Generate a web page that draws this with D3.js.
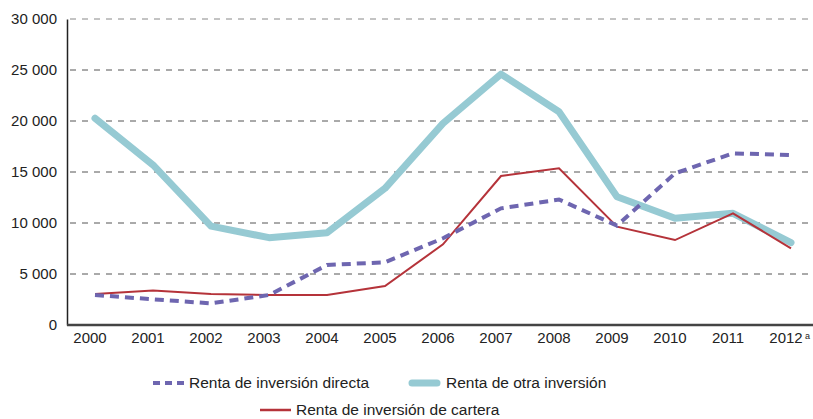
<!DOCTYPE html>
<html>
<head>
<meta charset="utf-8">
<script src="https://cdn.jsdelivr.net/npm/d3@7"></script>
<style>
	body { margin: 0; background: #fff; }
	text { font-family: "Liberation Sans", Arial, sans-serif; fill: #222; }
</style>
</head>
<body>
<svg id="chart" width="813" height="419"></svg>
<script>
var years = ["2000", "2001", "2002", "2003", "2004", "2005", "2006", "2007", "2008", "2009", "2010", "2011", "2012"];
var directa = [2940, 2520, 2120, 2940, 5880, 6150, 8500, 11440, 12300, 9740, 14870, 16830, 16670];
var otra = [20270, 15690, 9700, 8560, 9050, 13400, 19770, 24600, 20910, 12580, 10460, 10950, 8070];
var cartera = [3040, 3370, 3040, 2940, 2940, 3820, 7910, 14610, 15360, 9640, 8330, 10950, 7520];
var yTicks = [0, 5000, 10000, 15000, 20000, 25000, 30000];
var seriesNames = ["Renta de inversión directa", "Renta de otra inversión", "Renta de inversión de cartera"];

var svg = d3.select("#chart");
var plotLeft = 67, plotRight = 813, plotTop = 19, plotBottom = 325;

var x = d3.scalePoint().domain(years).range([95, 791]);
var y = d3.scaleLinear().domain([0, 30000]).range([plotBottom, plotTop]);
var fmt = function(d){ return d3.format(",")(d).replace(/,/g, " "); };

// gridlines
svg.selectAll("line.grid")
	.data(yTicks.filter(function(d){ return d > 0; }))
	.enter().append("line")
		.attr("class", "grid")
		.attr("x1", plotLeft).attr("x2", plotRight)
		.attr("y1", function(d){ return y(d); })
		.attr("y2", function(d){ return y(d); })
		.attr("stroke", function(d){ return d == 30000 ? "#888" : "#555"; })
		.attr("stroke-width", 1)
		.attr("stroke-dasharray", "6,6")
		.attr("stroke-dashoffset", -3);

// y axis
var yAxis = svg.append("g")
	.attr("transform", "translate(" + plotLeft + ",0)")
	.call(d3.axisLeft(y).tickValues(yTicks).tickSize(0).tickPadding(10).tickFormat(fmt));
yAxis.select(".domain").attr("stroke", "#222").attr("stroke-width", 1.5);
yAxis.selectAll("text").style("font-size", "15px").attr("fill", "#222");

// x axis
var xAxis = svg.append("g")
	.attr("transform", "translate(0," + plotBottom + ")")
	.call(d3.axisBottom(x).tickSize(0).tickPadding(7));
xAxis.select(".domain").remove();
xAxis.selectAll("text").style("font-size", "15px").attr("fill", "#222").attr("dx", -5.5);
svg.append("line")
	.attr("x1", plotLeft).attr("x2", plotRight)
	.attr("y1", plotBottom).attr("y2", plotBottom)
	.attr("stroke", "#444").attr("stroke-width", 2.5);
svg.append("text")
	.attr("x", x("2012") + 14).attr("y", 339)
	.style("font-size", "9px")
	.text("a");

var line = d3.line()
	.x(function(d, i){ return x(years[i]); })
	.y(function(d){ return y(d); });

svg.append("path").datum(otra)
	.attr("d", line).attr("fill", "none")
	.attr("stroke", "#96CAD3").attr("stroke-width", 7)
	.attr("stroke-linejoin", "round").attr("stroke-linecap", "round");
svg.append("path").datum(cartera)
	.attr("d", line).attr("fill", "none")
	.attr("stroke", "#B5333A").attr("stroke-width", 2);
svg.append("path").datum(directa)
	.attr("d", line).attr("fill", "none")
	.attr("stroke", "#6E66B0").attr("stroke-width", 4)
	.attr("stroke-dasharray", "9,6");

// legend
var legend = [
	{x: 153, y: 383, color: "#6E66B0", w: 4, dash: "7,5", cap: "butt"},
	{x: 412, y: 383, color: "#96CAD3", w: 7, dash: null, cap: "round"},
	{x: 260, y: 410, color: "#B5333A", w: 2.5, dash: null, cap: "butt"}
];
for (var i = 0; i < legend.length; i++) {
	var l = legend[i];
	svg.append("line")
		.attr("x1", l.x).attr("x2", l.cap == "round" ? l.x + 25 : l.x + 31)
		.attr("y1", l.y).attr("y2", l.y)
		.attr("stroke", l.color).attr("stroke-width", l.w)
		.attr("stroke-dasharray", l.dash)
		.attr("stroke-linecap", l.cap);
	svg.append("text")
		.attr("x", l.x + (i == 1 ? 34 : 36)).attr("y", l.y + 5)
		.style("font-size", "15.5px")
		.text(seriesNames[i]);
}
</script>
</body>
</html>
